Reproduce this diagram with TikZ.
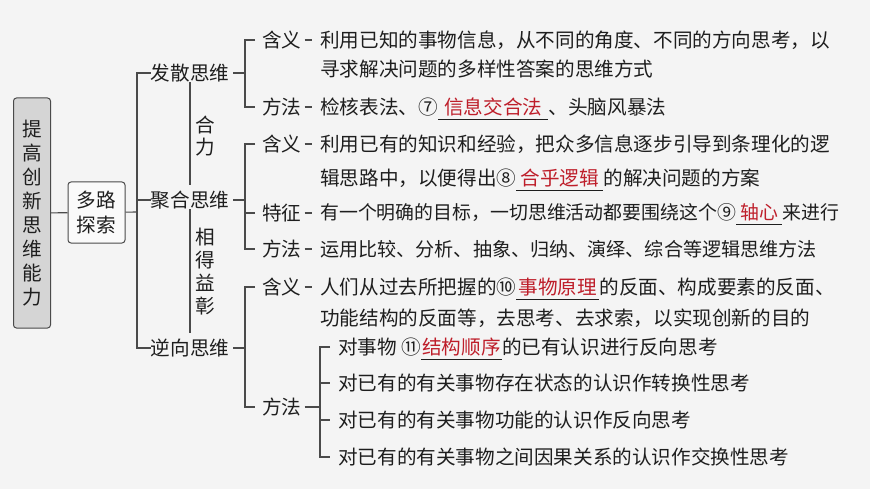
\documentclass[tikz,border=0pt]{standalone}
\usepackage{fontspec}
\setmainfont{Noto Sans CJK SC}
\definecolor{bggray}{HTML}{F4F4F4}
\definecolor{inkc}{HTML}{1E1E1E}
\definecolor{linec}{HTML}{4A4A4A}
\definecolor{ansred}{HTML}{BE1E2A}

\tikzset{
  wire/.style={draw=linec, line width=1.1pt},
  lv1/.style={inner sep=0pt, text=inkc, font=\fontsize{19.6pt}{24pt}\selectfont},
  lv2/.style={lv1, anchor=west},
  txt/.style={lv1, anchor=west},
  ans/.style={lv1, text=ansred, inner xsep=#1, inner ysep=3pt, anchor=base west},
  ans/.default=4pt,
  narrow/.style={font=\fontsize{#1}{24pt}\selectfont},
  uline/.style={draw=inkc, line width=0.9pt}
}

\begin{document}
\begin{tikzpicture}[x=1pt,y=-1pt]

\fill[bggray] (0,0) rectangle (870,489);
\useasboundingbox (0,0) rectangle (870,489);

% left boxes
\node[draw=linec, fill={rgb,255:red,213;green,213;blue,213}, rounded corners=3pt, line width=1pt,
      minimum width=37pt, minimum height=230pt, inner sep=0pt, align=center,
      text=inkc, font=\fontsize{19.6pt}{24pt}\selectfont] (root) at (32,213) {提\\高\\创\\新\\思\\维\\能\\力};
\node[draw=linec, fill={rgb,255:red,250;green,250;blue,250}, rounded corners=3pt, line width=1pt,
      minimum width=57pt, minimum height=61pt, inner sep=0pt, align=center,
      text=inkc, font=\fontsize{19.6pt}{25pt}\selectfont] (duolu) at (96.5,212.5) {多路\\探索};

% first level
\node[lv1] (fa) at (190,73) {发散思维};
\node[lv1] (ju) at (190,200) {聚合思维};
\node[lv1] (ni) at (190,348) {逆向思维};
\node[lv1, align=center, font=\fontsize{19.6pt}{22pt}\selectfont] (heli) at (205,136) {合\\力};
\node[lv1, align=center, font=\fontsize{19.6pt}{23pt}\selectfont] (xdyz) at (205,272) {相\\得\\益\\彰};

\coordinate (sp0) at (137,212);
\draw[wire] (root) -- (duolu);
\draw[wire] (duolu) -- (sp0);
\draw[wire] (fa.west) -| (sp0) |- (ni.west);
\draw[wire] (ju.west) -- (sp0 |- ju.west);
\draw[wire, shorten >=6pt] (fa.south) -- (ju.north);
\draw[wire, shorten >=6pt] (ju.south) -- (ni.north);

% fa san
\coordinate (sp1) at (245,73);
\node[lv2] (fh) at (262,40) {含义};
\node[lv2] (ff) at (262,107) {方法};
\draw[wire] ([xshift=4pt]fa.east) -- (sp1);
\draw[wire] ([xshift=-7pt]fh.west) -| (sp1) |- ([xshift=-7pt]ff.west);

\node[txt] (fh1) at (320,40) {利用已知的事物信息，从不同的角度、不同的方向思考，以};
\node[txt] (fh2) at (320,69) {寻求解决问题的多样性答案的思维方式};
\node[txt] (ff1) at (320,107) {检核表法、⑦};
\node[ans=6pt] (ff2) at (ff1.base east) {信息交合法};
\node[txt, anchor=base west] (ff3) at (ff2.base east) {、头脑风暴法};
\draw[uline] (ff2.south west) -- (ff2.south east);

% ju he
\coordinate (sp2) at (245,200);
\node[lv2] (jh) at (262,144) {含义};
\node[lv2] (jt) at (262,213) {特征};
\node[lv2] (jf) at (262,249) {方法};
\draw[wire] ([xshift=4pt]ju.east) -- (sp2);
\draw[wire] ([xshift=-7pt]jh.west) -| (sp2) |- ([xshift=-7pt]jf.west);
\draw[wire] (sp2 |- jt.west) -- ([xshift=-7pt]jt.west);

\node[txt] (jh1) at (320,144) {利用已有的知识和经验，把众多信息逐步引导到条理化的逻};
\node[txt] (jh2) at (320,178) {辑思路中，以便得出⑧};
\node[ans] (jh3) at (jh2.base east) {合乎逻辑};
\node[txt, anchor=base west] (jh4) at (jh3.base east) {的解决问题的方案};
\draw[uline] (jh3.south west) -- (jh3.south east);
\node[txt, narrow=18.9pt] (jt1) at (320,213) {有一个明确的目标，一切思维活动都要围绕这个⑨};
\node[ans=4pt, narrow=18.9pt] (jt2) at (jt1.base east) {轴心};
\node[txt, narrow=18.9pt, anchor=base west] (jt3) at (jt2.base east) {来进行};
\draw[uline] (jt2.south west) -- (jt2.south east);
\node[txt, narrow=19.1pt] (jf1) at (320,249) {运用比较、分析、抽象、归纳、演绎、综合等逻辑思维方法};

% ni xiang
\coordinate (sp3) at (245,348);
\node[lv2] (nh) at (262,287) {含义};
\node[lv2] (nf) at (262,407) {方法};
\draw[wire] ([xshift=4pt]ni.east) -- (sp3);
\draw[wire] ([xshift=-7pt]nh.west) -| (sp3) |- ([xshift=-7pt]nf.west);

\node[txt] (nh1) at (320,287) {人们从过去所把握的⑩};
\node[ans=2pt] (nh2) at (nh1.base east) {事物原理};
\node[txt, anchor=base west] (nh3) at (nh2.base east) {的反面、构成要素的反面、};
\draw[uline] (nh2.south west) -- (nh2.south east);
\node[txt] (nh4) at (320,318) {功能结构的反面等，去思考、去求索，以实现创新的目的};

\coordinate (sp4) at (320,407);
\draw[wire] ([xshift=3pt]nf.east) -- (sp4);
\node[txt] (g1) at (338,347) {对事物 ⑪\hspace{6pt}};
\node[ans=1pt] (g1r) at (g1.base east) {结构顺序};
\node[txt, anchor=base west] (g1b) at (g1r.base east) {的已有认识进行反向思考};
\draw[uline] (g1r.south west) -- (g1r.south east);
\node[txt] (g2) at (338,383) {对已有的有关事物存在状态的认识作转换性思考};
\node[txt] (g3) at (338,420) {对已有的有关事物功能的认识作反向思考};
\node[txt] (g4) at (338,457) {对已有的有关事物之间因果关系的认识作交换性思考};
\draw[wire] ([xshift=-8pt]g1.west) -| (sp4) |- ([xshift=-8pt]g4.west);
\foreach \n in {g2,g3}
  \draw[wire] (sp4 |- \n.west) -- ([xshift=-8pt]\n.west);

% short dashes
\foreach \a/\b in {fh/fh1,ff/ff1,jh/jh1,jt/jt1,jf/jf1,nh/nh1}
  \draw[wire] ([xshift=3pt]\a.east) -- ([xshift=-8pt]\b.west);

\end{tikzpicture}
\end{document}
